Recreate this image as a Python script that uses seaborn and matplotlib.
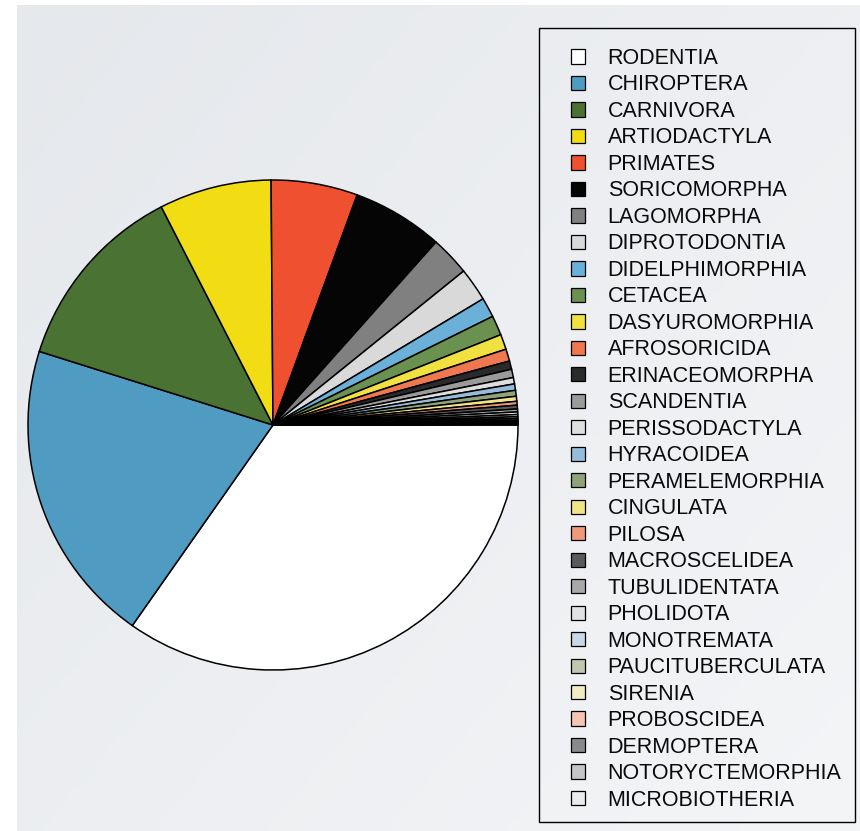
import numpy as np
import matplotlib
matplotlib.use("Agg")
import matplotlib.pyplot as plt
from matplotlib.patches import Patch, Rectangle
from matplotlib.colors import LinearSegmentedColormap
import seaborn as sns

# Mammal orders and their share of species (percent)
orders = [
    "RODENTIA", "CHIROPTERA", "CARNIVORA", "ARTIODACTYLA", "PRIMATES",
    "SORICOMORPHA", "LAGOMORPHA", "DIPROTODONTIA", "DIDELPHIMORPHIA", "CETACEA",
    "DASYUROMORPHIA", "AFROSORICIDA", "ERINACEOMORPHA", "SCANDENTIA",
    "PERISSODACTYLA", "HYRACOIDEA", "PERAMELEMORPHIA", "CINGULATA", "PILOSA",
    "MACROSCELIDEA", "TUBULIDENTATA", "PHOLIDOTA", "MONOTREMATA",
    "PAUCITUBERCULATA", "SIRENIA", "PROBOSCIDEA", "DERMOPTERA",
    "NOTORYCTEMORPHIA", "MICROBIOTHERIA",
]
share = [
    34.7, 20.1, 12.6, 7.4, 5.7,
    6.0, 2.6, 2.2, 1.3, 1.3,
    1.0, 0.8, 0.55, 0.55,
    0.42, 0.42, 0.39, 0.33, 0.25,
    0.25, 0.19, 0.17, 0.14,
    0.12, 0.11, 0.10, 0.08,
    0.07, 0.06,
]
colors = [
    "#ffffff", "#4f9bc2", "#4a7232", "#f2dc14", "#ee5030",
    "#050505", "#808080", "#d9d9d9", "#6ab0d8", "#6a9150",
    "#f0e040", "#f07850", "#2a2a2a", "#9a9a9a",
    "#dedede", "#95bddb", "#8fa27a", "#f0e486", "#f0987a",
    "#5a5a5a", "#a8a8a8", "#e2e2e4", "#c6d8e6",
    "#c0c6b0", "#f2ecc2", "#f6c4b4", "#8a8a8a",
    "#c6c6c6", "#ebebeb",
]

sns.set_theme(style="white")
plt.rcParams["font.family"] = ["Liberation Sans", "DejaVu Sans"]

W, H = 860, 831
fig = plt.figure(figsize=(W / 100, H / 100), dpi=100, facecolor="white")

# soft diagonal backdrop
bg = fig.add_axes([17 / W, 0, 1 - 17 / W, 1 - 5 / H], zorder=-10)
yy, xx = np.mgrid[0:1:200j, 0:1:200j]
grad = 0.55 * xx + 0.45 * yy
cmap = LinearSegmentedColormap.from_list("bg", ["#e5e8ec", "#f4f5f7"])
bg.imshow(grad, cmap=cmap, aspect="auto", extent=(0, 1, 1, 0))
bg.set_axis_off()

# pie: centre (273, 425) px, radius 245 px
cx, cy, r = 273, 425, 245
pad = 1.02
ax = fig.add_axes([(cx - r * pad) / W, (H - cy - r * pad) / H,
                   2 * r * pad / W, 2 * r * pad / H])
ax.patch.set_alpha(0)
ax.pie(share, colors=colors, startangle=0, counterclock=False,
       wedgeprops=dict(edgecolor="black", linewidth=1.1))
ax.set_xlim(-pad, pad)
ax.set_ylim(-pad, pad)
ax.set_axis_off()

# legend frame
fig.patches.append(Rectangle((539 / W, 1 - 822 / H), (855 - 539) / W, (822 - 28) / H,
                             fill=False, edgecolor="black", linewidth=1.0,
                             transform=fig.transFigure, figure=fig))

handles = [Patch(facecolor=c, edgecolor="black", linewidth=0.9) for c in colors]
fs = 15.5
fig.legend(handles, orders, loc="upper left",
           bbox_to_anchor=(571 / W, 1 - 48 / H), frameon=False,
           fontsize=fs, borderpad=0, borderaxespad=0,
           handlelength=0.65, handleheight=0.65, handletextpad=1.05,
           labelspacing=0.255, labelcolor="#0a0a0a")

fig.savefig("out.png", dpi=100, facecolor=fig.get_facecolor())
